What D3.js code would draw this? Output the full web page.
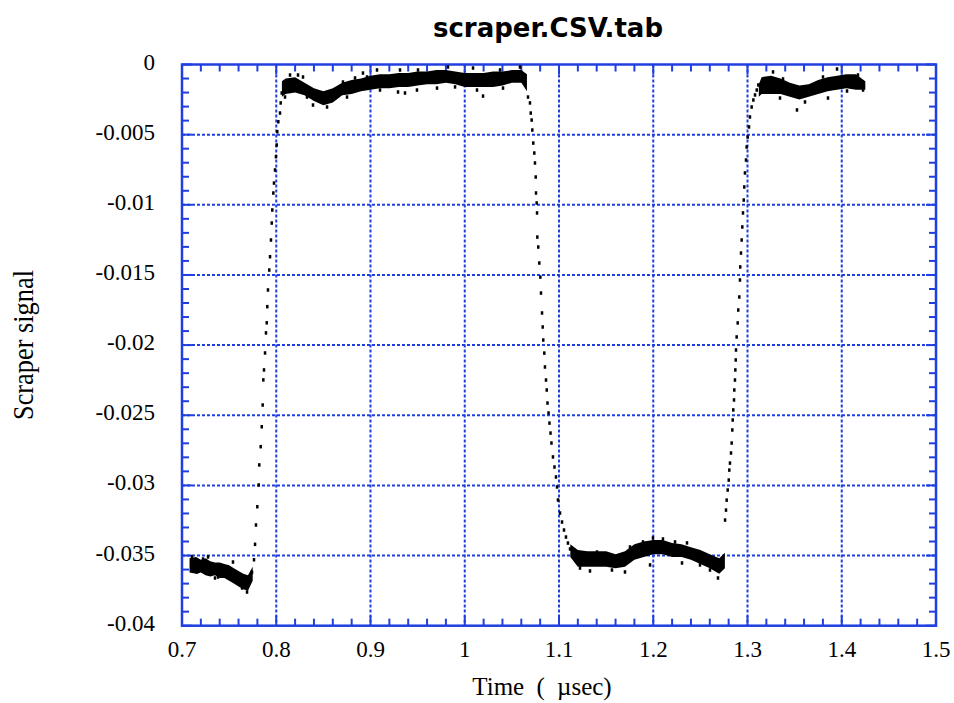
<!DOCTYPE html>
<meta charset="utf-8">
<style>
  body { margin: 0; background: #fff; }
  .tick-label { font-family: "Liberation Serif", "DejaVu Serif", serif; font-size: 23px; fill: #000; }
  .title { font-family: "DejaVu Sans", sans-serif; font-weight: bold; font-size: 26px; fill: #000; }
  .axis-title { font-family: "Liberation Serif", serif; fill: #000; }
  .grid { stroke: #1f3fe0; stroke-width: 2; stroke-dasharray: 3,2; }
  .tick { stroke: #1f3fe0; stroke-width: 2; }
</style>
<body>
<div id="chart"></div>
<script src="https://d3js.org/d3.v7.min.js"></script>
<script>
  // tick values
  var xTicks = [0.7, 0.8, 0.9, 1.0, 1.1, 1.2, 1.3, 1.4, 1.5];
  var xTickLabels = ["0.7", "0.8", "0.9", "1", "1.1", "1.2", "1.3", "1.4", "1.5"];
  var yTicks = [0, -0.005, -0.01, -0.015, -0.02, -0.025, -0.03, -0.035, -0.04];
  var yTickLabels = ["0", "-0.005", "-0.01", "-0.015", "-0.02", "-0.025", "-0.03", "-0.035", "-0.04"];

  // plateaus: time, upper and lower edge of the noisy trace
  var low1T  = [0.708, 0.715, 0.720, 0.725, 0.730, 0.735, 0.740, 0.745, 0.750, 0.755, 0.760, 0.765, 0.770, 0.775];
  var low1Hi = [-0.0352, -0.0351, -0.0353, -0.0352, -0.0354, -0.0355, -0.0355, -0.0356, -0.0357, -0.0359, -0.0361, -0.0363, -0.0364, -0.0358];
  var low1Lo = [-0.0362, -0.0363, -0.0362, -0.0364, -0.0365, -0.0364, -0.0366, -0.0366, -0.0368, -0.0370, -0.0372, -0.0374, -0.0375, -0.0368];

  var high1T  = [0.806, 0.81, 0.82, 0.83, 0.84, 0.85, 0.86, 0.87, 0.88, 0.89, 0.90, 0.91, 0.92, 0.93, 0.94, 0.95, 0.96, 0.97, 0.98, 0.99, 1.00, 1.01, 1.02, 1.03, 1.04, 1.05, 1.06, 1.066];
  var high1Hi = [-0.0012, -0.0010, -0.0009, -0.0013, -0.0017, -0.0019, -0.0017, -0.0013, -0.0011, -0.0010, -0.0008, -0.0007, -0.0007, -0.0006, -0.0006, -0.0005, -0.0005, -0.0004, -0.0004, -0.0005, -0.0006, -0.0006, -0.0006, -0.0005, -0.0005, -0.0004, -0.0004, -0.0007];
  var high1Lo = [-0.0023, -0.0021, -0.0020, -0.0022, -0.0026, -0.0029, -0.0027, -0.0022, -0.0021, -0.0019, -0.0018, -0.0017, -0.0017, -0.0016, -0.0016, -0.0015, -0.0014, -0.0014, -0.0013, -0.0014, -0.0016, -0.0016, -0.0016, -0.0016, -0.0015, -0.0013, -0.0013, -0.0019];

  var low2T  = [1.112, 1.12, 1.13, 1.14, 1.15, 1.16, 1.17, 1.18, 1.19, 1.20, 1.21, 1.22, 1.23, 1.24, 1.25, 1.26, 1.27, 1.276];
  var low2Hi = [-0.0342, -0.0346, -0.0347, -0.0347, -0.0347, -0.0349, -0.0347, -0.0342, -0.0340, -0.0339, -0.0339, -0.0341, -0.0342, -0.0344, -0.0346, -0.0349, -0.0352, -0.0348];
  var low2Lo = [-0.0351, -0.0358, -0.0358, -0.0358, -0.0358, -0.0359, -0.0358, -0.0353, -0.0351, -0.0349, -0.0349, -0.0351, -0.0351, -0.0353, -0.0356, -0.0359, -0.0363, -0.0359];

  var high2T  = [1.312, 1.315, 1.325, 1.335, 1.345, 1.355, 1.365, 1.375, 1.385, 1.395, 1.405, 1.415, 1.425];
  var high2Hi = [-0.0014, -0.0009, -0.0008, -0.0010, -0.0013, -0.0015, -0.0014, -0.0011, -0.0009, -0.0008, -0.0007, -0.0007, -0.0012];
  var high2Lo = [-0.0023, -0.0021, -0.0021, -0.0021, -0.0023, -0.0025, -0.0023, -0.0021, -0.0019, -0.0018, -0.0017, -0.0018, -0.0018];

  // single samples on the edges
  var rise1T = [0.7743, 0.7764, 0.7775, 0.7785, 0.7799, 0.7814, 0.7820, 0.7835, 0.7846, 0.7856, 0.7863, 0.7870, 0.7881, 0.7891, 0.7899, 0.7905, 0.7912, 0.7926, 0.7934, 0.7944, 0.7952, 0.7958, 0.7969, 0.7976, 0.7987, 0.7997, 0.8005, 0.8011, 0.8022, 0.8040, 0.8047, 0.8058, 0.8077];
  var rise1V = [-0.0362, -0.0353, -0.0342, -0.03282, -0.03152, -0.02997, -0.02854, -0.02724, -0.02582, -0.02427, -0.02248, -0.02177, -0.02056, -0.01913, -0.01841, -0.01726, -0.01607, -0.01465, -0.01370, -0.01251, -0.01130, -0.01037, -0.00916, -0.00845, -0.00752, -0.00657, -0.00574, -0.00479, -0.00408, -0.00346, -0.00274, -0.00203, -0.00192];

  var fall1T = [1.0671, 1.0692, 1.0700, 1.0710, 1.0717, 1.0727, 1.0738, 1.0745, 1.0753, 1.0756, 1.0763, 1.0767, 1.0770, 1.0780, 1.0791, 1.0802, 1.0809, 1.0820, 1.0827, 1.0833, 1.0844, 1.0851, 1.0862, 1.0870, 1.0878, 1.0889, 1.0899, 1.0910, 1.0920, 1.0936, 1.0952, 1.0968, 1.0979, 1.0989, 1.1011, 1.1032, 1.1053, 1.1074, 1.1095, 1.1117];
  var fall1V = [-0.00232, -0.00274, -0.00346, -0.00396, -0.00467, -0.00560, -0.00631, -0.00702, -0.00802, -0.00916, -0.00987, -0.01058, -0.01230, -0.01301, -0.01415, -0.01515, -0.01629, -0.01771, -0.01871, -0.01964, -0.02057, -0.02156, -0.02249, -0.02320, -0.02413, -0.02484, -0.02556, -0.02627, -0.02698, -0.02797, -0.02869, -0.02940, -0.03011, -0.03104, -0.03197, -0.03261, -0.03318, -0.03368, -0.03411, -0.03453];

  var rise2T = [1.2762, 1.2772, 1.2779, 1.2790, 1.2801, 1.2807, 1.2814, 1.2825, 1.2832, 1.2839, 1.2843, 1.2849, 1.2857, 1.2860, 1.2867, 1.2871, 1.2875, 1.2878, 1.2885, 1.2896, 1.2902, 1.2913, 1.2920, 1.2923, 1.2931, 1.2938, 1.2945, 1.2952, 1.2960, 1.2966, 1.2973, 1.2984, 1.2991, 1.3002, 1.3016, 1.3026, 1.3044, 1.3062, 1.3080, 1.3098, 1.3115];
  var rise2V = [-0.03247, -0.03176, -0.03105, -0.03033, -0.02962, -0.02891, -0.02841, -0.02769, -0.02698, -0.02605, -0.02534, -0.02462, -0.02391, -0.02320, -0.02249, -0.02177, -0.02106, -0.02035, -0.01942, -0.01842, -0.01750, -0.01657, -0.01536, -0.01443, -0.01344, -0.01251, -0.01158, -0.01058, -0.00966, -0.00873, -0.00773, -0.00681, -0.00588, -0.00517, -0.00445, -0.00374, -0.00303, -0.00253, -0.00217, -0.00182, -0.00146];

  // stray samples around the plateaus
  var strayT = [0.7106, 0.7223, 0.7276, 0.7541, 0.7159, 0.7350, 0.7382, 0.7637, 0.7690,
    0.8146, 0.8231, 0.8284, 0.8708, 0.8836, 0.8920, 0.8963, 0.8093, 0.8326, 0.8390, 0.8539, 0.8751,
    0.9069, 0.9313, 0.9504, 0.9822, 1.0088, 1.0374, 1.0586, 0.9101, 0.9292, 0.9366, 0.9493, 0.9706, 0.9897, 1.0130, 1.0194, 1.0406,
    1.1403, 1.1753, 1.1891, 1.1997, 1.2103, 1.2231, 1.2358, 1.1223, 1.1329, 1.1562, 1.1700, 1.1966, 1.2305, 1.2496, 1.2602, 1.2687,
    1.3271, 1.3377, 1.3801, 1.3950, 1.4172, 1.3345, 1.3525, 1.3610, 1.3854, 1.4056, 1.4226];
  var strayV = [-0.0351, -0.03525, -0.0351, -0.03546, -0.03617, -0.0366, -0.03653, -0.03731, -0.0376,
    -0.00075, -0.00075, -0.00089, -0.00125, -0.00096, -0.00061, -0.00089, -0.00232, -0.00232, -0.00289, -0.00303, -0.00232,
    -0.00039, -0.00039, -0.00039, -0.00018, -0.00025, -0.00039, -0.00018, -0.00182, -0.00196, -0.00203, -0.00182, -0.00168, -0.0016, -0.00182, -0.00225, -0.00168,
    -0.03475, -0.03439, -0.03403, -0.03375, -0.03382, -0.03403, -0.0341, -0.03589, -0.0361, -0.03603, -0.03617, -0.03567, -0.03553, -0.03567, -0.03603, -0.0366,
    -0.00053, -0.00103, -0.00089, -0.00032, -0.00075, -0.00239, -0.00324, -0.00267, -0.00239, -0.00189, -0.00182];

  var width = 954, height = 703;
  var margin = {left: 182, right: 18, top: 64.5, bottom: 77.3};

  var x = d3.scaleLinear().domain([0.7, 1.5]).range([margin.left, width - margin.right]);
  var y = d3.scaleLinear().domain([0, -0.04]).range([margin.top, height - margin.bottom]);

  var svg = d3.select("#chart").append("svg")
          .attr("width", width)
          .attr("height", height);

  svg.append("text")
          .attr("class", "title")
          .attr("x", 548)
          .attr("y", 37)
          .attr("text-anchor", "middle")
          .text("scraper.CSV.tab");

  // grid
  svg.selectAll("line.vgrid").data(xTicks.slice(1, -1)).enter()
          .append("line")
          .attr("class", "grid")
          .attr("x1", d => x(d)).attr("x2", d => x(d))
          .attr("y1", y(0)).attr("y2", y(-0.04));

  svg.selectAll("line.hgrid").data(yTicks.slice(1, -1)).enter()
          .append("line")
          .attr("class", "grid")
          .attr("y1", d => y(d)).attr("y2", d => y(d))
          .attr("x1", x(0.7)).attr("x2", x(1.5));

  // minor + major ticks on all four sides
  var xMinor = d3.range(0, 41).map(i => 0.7 + i * 0.02);
  var yMinor = d3.range(0, 41).map(i => -i * 0.001);
  var x0 = x(0.7), x1 = x(1.5), y0 = y(0), y1 = y(-0.04);

  xMinor.forEach(function (d, i) {
    var len = i % 5 == 0 ? 10 : 7;
    svg.append("line").attr("class", "tick")
            .attr("x1", x(d)).attr("x2", x(d)).attr("y1", y0).attr("y2", y0 + len);
    svg.append("line").attr("class", "tick")
            .attr("x1", x(d)).attr("x2", x(d)).attr("y1", y1).attr("y2", y1 - len);
  });
  yMinor.forEach(function (d, i) {
    var len = i % 5 == 0 ? 10 : 7;
    svg.append("line").attr("class", "tick")
            .attr("y1", y(d)).attr("y2", y(d)).attr("x1", x0).attr("x2", x0 + len);
    svg.append("line").attr("class", "tick")
            .attr("y1", y(d)).attr("y2", y(d)).attr("x1", x1).attr("x2", x1 - len);
  });

  svg.append("rect")
          .attr("x", x0).attr("y", y0)
          .attr("width", x1 - x0).attr("height", y1 - y0)
          .attr("fill", "none")
          .attr("stroke", "#1f3fe0")
          .attr("stroke-width", 2.5);

  // tick labels
  svg.selectAll("text.xlab").data(xTicks).enter()
          .append("text")
          .attr("class", "tick-label")
          .attr("x", d => x(d))
          .attr("y", 657)
          .attr("text-anchor", "middle")
          .text((d, i) => xTickLabels[i]);

  svg.selectAll("text.ylab").data(yTicks).enter()
          .append("text")
          .attr("class", "tick-label")
          .attr("x", 155)
          .attr("y", d => y(d) + 5)
          .attr("text-anchor", "end")
          .text((d, i) => yTickLabels[i]);

  svg.append("text")
          .attr("class", "axis-title")
          .attr("x", 542)
          .attr("y", 695)
          .attr("text-anchor", "middle")
          .style("font-size", "25px")
          .style("word-spacing", "6px")
          .text("Time ( \u00b5sec)");

  svg.append("text")
          .attr("class", "axis-title")
          .attr("transform", "translate(33,345) rotate(-90)")
          .attr("text-anchor", "middle")
          .style("font-size", "29px")
          .attr("textLength", 150)
          .attr("lengthAdjust", "spacingAndGlyphs")
          .text("Scraper signal");

  // data
  var bands = [[low1T, low1Hi, low1Lo], [high1T, high1Hi, high1Lo], [low2T, low2Hi, low2Lo], [high2T, high2Hi, high2Lo]];
  var area = d3.area()
          .x(d => x(d.t))
          .y0(d => y(d.lo))
          .y1(d => y(d.hi));

  bands.forEach(function (b) {
    var pts = b[0].map((t, i) => ({t: t, hi: b[1][i], lo: b[2][i]}));
    svg.append("path")
            .datum(pts)
            .attr("d", area)
            .attr("fill", "#000");
  });

  var edges = [[rise1T, rise1V], [fall1T, fall1V], [rise2T, rise2V], [strayT, strayV]];
  edges.forEach(function (e) {
    svg.selectAll(null).data(e[0]).enter()
            .append("rect")
            .attr("x", d => x(d) - 1.25)
            .attr("y", (d, i) => y(e[1][i]) - 1.75)
            .attr("width", 2.5)
            .attr("height", 3.5)
            .attr("fill", "#000");
  });
</script>
</body>
